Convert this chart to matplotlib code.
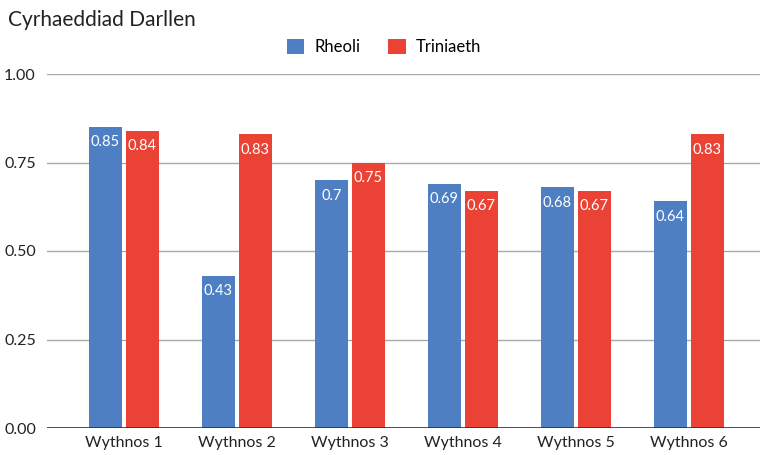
import matplotlib
matplotlib.use("Agg")
import matplotlib.pyplot as plt
import numpy as np

categories = ["Wythnos 1", "Wythnos 2", "Wythnos 3", "Wythnos 4", "Wythnos 5", "Wythnos 6"]
rheoli = [0.85, 0.43, 0.70, 0.69, 0.68, 0.64]
triniaeth = [0.84, 0.83, 0.75, 0.67, 0.67, 0.83]
rheoli_labels = ["0.85", "0.43", "0.7", "0.69", "0.68", "0.64"]
triniaeth_labels = ["0.84", "0.83", "0.75", "0.67", "0.67", "0.83"]
yticks = [0.0, 0.25, 0.5, 0.75, 1.0]
ytick_labels = ["0.00", "0.25", "0.50", "0.75", "1.00"]

plt.rcParams['font.family'] = ['Lato', 'DejaVu Sans']

BLUE = "#4f7fc3"
RED = "#ea4335"

fig = plt.figure(figsize=(7.61, 4.55), dpi=100)
ax = fig.add_axes([47/761, 1-428/455, 713/761, (428-74)/455])

x = np.arange(len(categories))
w = 0.292
off = 0.164
b1 = ax.bar(x - off, rheoli, w, color=BLUE, label="Rheoli", zorder=3)
b2 = ax.bar(x + off, triniaeth, w, color=RED, label="Triniaeth", zorder=3)

for bars, labs in ((b1, rheoli_labels), (b2, triniaeth_labels)):
    for r, t in zip(bars, labs):
        ax.annotate(t, (r.get_x() + r.get_width()/2, r.get_height()),
                    xytext=(0, -6), textcoords="offset points",
                    ha="center", va="top", color="white", fontsize=10.5, zorder=4)

ax.set_xlim(-0.68, 5.63)
ax.set_ylim(0, 1.0)
ax.set_yticks(yticks)
ax.set_yticklabels(ytick_labels)
ax.set_xticks(x)
ax.set_xticklabels(categories)
ax.tick_params(axis='both', length=0, labelsize=11.5, colors="#222222")
ax.tick_params(axis='y', pad=8)
ax.tick_params(axis='x', pad=6)
for s in ax.spines.values():
    s.set_visible(False)
ax.yaxis.grid(True, color="#aaaaaa", linewidth=1, zorder=0)
ax.axhline(0, color="#333333", linewidth=1.2, zorder=5)
ax.set_axisbelow(True)

fig.text(8/761, 1-20/455, "Cyrhaeddiad Darllen", fontsize=15, va="center", ha="left",
         color="#222222")
leg = fig.legend(handles=[b1, b2], loc="center", bbox_to_anchor=(384/761, 1-47/455), ncol=2,
                 frameon=False, fontsize=12, handlelength=1.05, handleheight=1.05,
                 handletextpad=0.6, columnspacing=1.7)

fig.savefig("out.png", dpi=100)
